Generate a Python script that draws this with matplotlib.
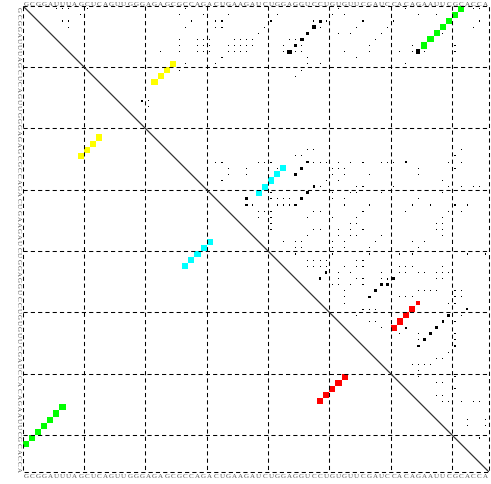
import matplotlib
matplotlib.use("Agg")
import matplotlib.pyplot as plt
from matplotlib.patches import Rectangle

# tRNA sequence shown on all four sides
seq = "GCGGAUUUAGCUCAGUUGGGAGAGCGCCAGACUGAAGAUCUGGAGGUCCUGUGUUCGAUCCACAGAAUUCGCACCA"
n = len(seq)

# MFE helices (i < j), colour per helix
helix_colors = ["#00ff00", "#ffff00", "#00ffff", "#ff0000"]
helix_i = [[1, 2, 3, 4, 5, 6, 7], [10, 11, 12, 13], [27, 28, 29, 30, 31], [49, 50, 51, 52, 53]]
helix_j = [[72, 71, 70, 69, 68, 67, 66], [25, 24, 23, 22], [43, 42, 41, 40, 39], [65, 64, 63, 62, 61]]
helix_p = [[1, 1, 1, 1, 1, 1, 1], [1, 1, 1, 1], [1, 1, 1, 1, 1], [0.4, 1, 1, 1, 1]]

# stronger alternative pairs (i, j, prob)
alt_pairs = [
    (3, 49, 0.24), (4, 48, 0.3), (5, 47, 0.3), (6, 46, 0.36), (7, 45, 0.36), (8, 44, 0.5),
    (8, 65, 0.55), (16, 20, 0.1), (26, 63, 0.1),
    (26, 47, 0.2), (27, 46, 0.2), (28, 45, 0.2),
    (30, 48, 0.2), (31, 47, 0.2), (32, 46, 0.2), (33, 45, 0.2),
    (32, 37, 0.2), (33, 37, 0.2),
    (44, 50, 0.15), (45, 49, 0.15),
    (45, 60, 0.1), (45, 61, 0.2), (46, 60, 0.2), (46, 59, 0.17), (47, 58, 0.2), (48, 57, 0.2),
    (51, 70, 0.2), (52, 69, 0.15), (53, 68, 0.2), (54, 67, 0.2), (55, 66, 0.22), (56, 65, 0.2),
    (53, 63, 0.1), (50, 73, 0.08),
]

# weak pairs (tiny dots)
weak_p = 0.03
weak_pairs = [
    (1, 6), (1, 7), (1, 8), (2, 10), (1, 11), (3, 7), (3, 8), (4, 8),
    (1, 27), (2, 26), (2, 30), (2, 34), (3, 28), (3, 32), (3, 33), (4, 27), (4, 32), (4, 33), (4, 40), (5, 39),
    (6, 26), (7, 26), (8, 26), (6, 29), (6, 30), (6, 31), (7, 29), (7, 30), (7, 31), (8, 29), (8, 30), (8, 31),
    (6, 35), (6, 36), (6, 37), (6, 38), (7, 34), (7, 35), (7, 36), (7, 37), (7, 38),
    (8, 34), (8, 35), (8, 36), (8, 37), (8, 23), (9, 33), (10, 32), (10, 27), (11, 26), (16, 21), (17, 21),
    (2, 42), (3, 41), (6, 44), (6, 45), (7, 43), (7, 46), (8, 43), (8, 45), (8, 46), (9, 47), (10, 47),
    (10, 49), (11, 46), (12, 45), (2, 51), (2, 53), (1, 52), (3, 48), (3, 50), (4, 49), (4, 55), (3, 56),
    (5, 52), (5, 54), (5, 59), (4, 60), (3, 61), (1, 63), (2, 65), (2, 68), (6, 58), (7, 57), (8, 57),
    (8, 53), (8, 62), (9, 55), (7, 64), (8, 64), (8, 66), (10, 63), (5, 69), (7, 71), (8, 71),
    (1, 74), (1, 75), (3, 75), (4, 74),
    (26, 32), (26, 33), (27, 34), (28, 34), (29, 33), (27, 37), (28, 37), (26, 39), (26, 40), (26, 41),
    (27, 42), (25, 45), (25, 46), (24, 47), (24, 48), (26, 48), (26, 49), (26, 50), (26, 52), (27, 51),
    (27, 52), (27, 53), (28, 51), (28, 53), (29, 50), (29, 52), (30, 49), (33, 38), (31, 41), (32, 41),
    (32, 42), (32, 43), (32, 44), (33, 42), (33, 43), (33, 44), (34, 39), (34, 40), (34, 41), (35, 39),
    (35, 41), (36, 41), (37, 41), (37, 48), (37, 49), (38, 47), (39, 43), (39, 45), (39, 46), (40, 45),
    (40, 46), (41, 45), (39, 51), (40, 51), (41, 51), (42, 47), (42, 48), (42, 49), (42, 50), (43, 47),
    (43, 48), (43, 49), (37, 52), (38, 52), (35, 51), (35, 47), (34, 48), (34, 49), (31, 51), (32, 51),
    (26, 54), (26, 56), (26, 59), (26, 60), (26, 61), (26, 70), (25, 71), (24, 72), (26, 72), (27, 71),
    (28, 57), (27, 65), (28, 65), (29, 69), (30, 55), (30, 56), (31, 54), (31, 55), (31, 59), (30, 61),
    (30, 70), (30, 72), (30, 74), (30, 75), (31, 69), (32, 53), (33, 53), (32, 65), (33, 64), (33, 67),
    (34, 56), (33, 57), (34, 63), (34, 70), (33, 71), (34, 72), (33, 73), (35, 69), (36, 69), (36, 68),
    (37, 69), (37, 68), (35, 55), (36, 55), (36, 54), (37, 54), (37, 56), (38, 55), (38, 54), (38, 59),
    (39, 58), (39, 53), (40, 53), (40, 57), (39, 64), (40, 65), (39, 66), (38, 69), (41, 62), (41, 64),
    (41, 73), (41, 76), (41, 57),
    (43, 50), (42, 55), (42, 56), (43, 55), (43, 56), (43, 53), (44, 59), (45, 59),
    (47, 53), (48, 53), (49, 53), (44, 52), (45, 52), (46, 52), (46, 51), (44, 54), (46, 54), (45, 55),
    (45, 56), (46, 56), (43, 62), (43, 63), (43, 64), (44, 65), (44, 66), (44, 62), (44, 63),
    (44, 68), (44, 69), (43, 69), (45, 68), (45, 69), (44, 70), (48, 62), (48, 63), (48, 64), (47, 65),
    (47, 66), (47, 67), (47, 68), (49, 70), (49, 71), (48, 71), (47, 71), (48, 72), (47, 72),
    (50, 56), (50, 57), (50, 58), (51, 55), (52, 57), (52, 58), (53, 59), (54, 62), (54, 65), (55, 65),
    (51, 63), (58, 68), (58, 69), (57, 70), (56, 71), (55, 71), (54, 71), (51, 72), (52, 71),
    (59, 64), (59, 65), (59, 66), (59, 67), (60, 65), (61, 65), (62, 68), (62, 69), (61, 71), (63, 71),
    (64, 68), (64, 69), (65, 69), (65, 70), (65, 72), (65, 74), (65, 75), (68, 73), (69, 73), (68, 76),
    (69, 76), (71, 75),
]

W, H = 491, 485
fig = plt.figure(figsize=(W / 100, H / 100), dpi=100)
ax = fig.add_axes([22.7 / W, (H - 472.7) / H, 466 / W, 466 / H])
ax.set_xlim(0.5, n + 0.5)
ax.set_ylim(n + 0.5, 0.5)
ax.axis("off")


def box(x, y, p, color):
    s = p ** 0.5
    ax.add_patch(Rectangle((x - s / 2, y - s / 2), s, s, facecolor=color, edgecolor="none", lw=0))


# upper triangle: x = j, y = i ; lower triangle: x = i, y = j
for i, j in weak_pairs:
    box(j, i, weak_p, "black")
for i, j, p in alt_pairs:
    box(j, i, p, "black")
for col, hi, hj, hp in zip(helix_colors, helix_i, helix_j, helix_p):
    for i, j, p in zip(hi, hj, hp):
        box(j, i, p, col)
        box(i, j, 1, col)

# dashed frame and grid every 10 nt
dash = dict(color="black", lw=0.75, linestyle=(0, (4, 3)))
for k in list(range(10, n, 10)):
    ax.plot([k + 0.5, k + 0.5], [0.5, n + 0.5], **dash)
    ax.plot([0.5, n + 0.5], [k + 0.5, k + 0.5], **dash)
ax.plot([0.5, n + 0.5, n + 0.5, 0.5, 0.5], [0.5, 0.5, n + 0.5, n + 0.5, 0.5], clip_on=False, **dash)

ax.plot([0.5, n + 0.5], [0.5, n + 0.5], color="0.2", lw=0.9)

# sequence on the four sides (right column is cut by the image edge, as in the original)
tk = dict(fontsize=5, color="0.35", family="Liberation Serif", clip_on=False)
for k, c in enumerate(seq, start=1):
    ax.text(k, 0.42, c, ha="center", va="baseline", **tk)
    ax.text(k, n + 0.7, c, ha="center", va="top", **tk)
    ax.text(0.25, k, c, ha="right", va="center", rotation=-90, **tk)
    ax.text(n + 0.55, k, c, ha="left", va="center", rotation=-90, **tk)

fig.savefig("out.png", dpi=100)
